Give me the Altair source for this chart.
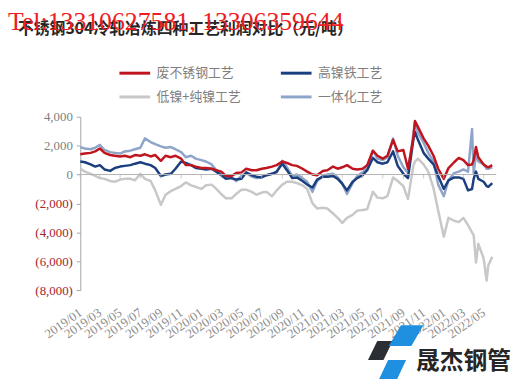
import altair as alt
import pandas as pd

series_names = ["废不锈钢工艺", "高镍铁工艺", "低镍+纯镍工艺", "一体化工艺"]
series_colors = ["#c0141e", "#1b3f7e", "#c8c8c8", "#8ea4c8"]

# semi-monthly sample dates (1st and 15th) + last observation
dates = list(pd.date_range("2019-01-01", "2022-05-15", freq="SMS").strftime("%Y-%m-%d")) + ["2022-05-27"]

red = [1400, 1450, 1500, 1600, 1800, 1500, 1350, 1300, 1250, 1300,
       1200, 1350, 1300, 1400, 1250, 1350, 950, 1300, 1200, 1300,
       1100, 650, 650, 550, 450, 450, 400, 300, 200, -100,
       -100, 100, 150, 400, 300, 300, 400, 450, 550, 650,
       900, 800, 650, 600, 400, 200, 0, -50, 250, 300,
       550, 400, 500, 650, 400, 350, 400, 650, 1650, 1300,
       1100, 1300, 2400, 1600, 1700, 400, 2500, 3300, 2500, 2000,
       1300, 400, -300, 450, 850, 1150, 1000, 650, 1000, 1200,
       700, 500, 650]
navy = [900, 850, 700, 550, 650, 350, 250, 450, 550, 600,
        650, 750, 850, 750, 650, 450, -100, 0, 50, 400,
        900, 800, 650, 450, 400, 350, 400, 200, -50, -300,
        -250, -350, -300, 150, -50, -150, -200, -50, 50, 200,
        750, 300, -250, -200, -450, -700, -900, -350, -150, -150,
        -100, -300, -650, -1100, -500, -250, -50, 300, 1150, 850,
        750, 850, 1600, 600, 50, -250, 2400, 2400, 1500, 1100,
        700, -100, -1000, -400, -200, -200, -300, -1100, -300, -300,
        -500, -850, -600]
grey = [400, 200, 50, -100, -250, -300, -450, -500, -350, -300,
        -300, -400, 50, -300, -450, -1100, -2100, -1400, -1150, -1000,
        -800, -550, -750, -850, -1000, -750, -700, -1000, -1350, -1650,
        -1650, -1350, -1050, -1050, -1200, -1400, -1250, -1200, -1500, -1100,
        -700, -500, -500, -600, -750, -1000, -2000, -2350, -2300, -2350,
        -2700, -3000, -3350, -3000, -2800, -2500, -2450, -2400, -1200, -1600,
        -1650, -1500, -200, -450, -800, -1700, 600, 1100, 700, 200,
        -950, -2500, -4300, -3000, -3200, -3300, -3000, -3500, -4200, -4800,
        -5800, -6300, -5700]
lightblue = [1900, 1800, 1750, 1850, 2050, 1700, 1550, 1500, 1450, 1600,
             1650, 1750, 1850, 2500, 2250, 2100, 1950, 1850, 1900, 1750,
             1550, 1200, 1300, 1100, 1000, 900, 700, 300, 0, -250,
             -200, -450, -100, 100, -150, -250, -150, -50, 50, 150,
             950, 500, -100, 0, -250, -500, -1200, -450, -100, 0,
             50, -200, -600, -1350, -600, -100, 150, 450, 1650, 1100,
             1000, 1200, 2500, 1300, 500, 100, 2800, 2900, 2200, 1500,
             900, -700, -1500, -400, 100, 200, 350, 200, 100, 900,
             700, 400, 500]

# short-lived spikes between the semi-monthly samples
spike_dates = ["2021-10-06", "2022-03-27", "2022-04-08", "2022-05-10"]
spike_red = [3700, 700, 1900, 550]
spike_navy = [2950, -1000, 200, -800]
spike_grey = [900, -4000, -6100, -7350]
spike_lightblue = [3650, 3150, 1450, 400]

tick_labels = ["2019/01", "2019/03", "2019/05", "2019/07", "2019/09", "2019/11",
               "2020/01", "2020/03", "2020/05", "2020/07", "2020/09", "2020/11",
               "2021/01", "2021/03", "2021/05", "2021/07", "2021/09", "2021/11",
               "2022/01", "2022/03", "2022/05"]
y_ticks = [-8000, -6000, -4000, -2000, 0, 2000, 4000]

all_dates = dates + spike_dates
series_vals = {
    "低镍+纯镍工艺": grey + spike_grey,
    "一体化工艺": lightblue + spike_lightblue,
    "高镍铁工艺": navy + spike_navy,
    "废不锈钢工艺": red + spike_red,
}
rows = []
for k, (name, vals) in enumerate(series_vals.items()):
    for d, v in zip(all_dates, vals):
        rows.append({"date": d + "T00:00:00", "series": name, "value": v, "ord": k})
df = pd.DataFrame(rows).sort_values(["ord", "date"]).reset_index(drop=True)

tick_values = [alt.DateTime(year=int(s[:4]), month=int(s[5:]), date=1) for s in tick_labels]
x_scale = alt.Scale(domain=[alt.DateTime(year=2019, month=1, date=1),
                            alt.DateTime(year=2022, month=6, date=8)])
y_scale = alt.Scale(domain=[-8000, 4000], nice=False)

x_axis = alt.Axis(values=tick_values, format="%Y/%m", labelAngle=-35, labelAlign="right",
                  labelBaseline="middle", labelFont="Liberation Serif", labelFontSize=13,
                  labelColor="#8c8c8c", domain=False, ticks=False, tickSize=0, labelPadding=21,
                  grid=False, title=None, labelOverlap=False, labelFlush=False)
y_axis = alt.Axis(values=y_ticks,
                  labelExpr="datum.value < 0 ? '(' + format(-datum.value, ',') + ')' : format(datum.value, ',')",
                  labelColor={"condition": {"test": "datum.value < 0", "value": "#a3262d"}, "value": "#7f7f7f"},
                  labelFont="Liberation Serif", labelFontSize=13, domainColor="#a6a6a6",
                  tickColor="#a6a6a6", tickSize=4, labelPadding=4, grid=False, title=None,
                  labelOverlap=False)

lines = alt.Chart(df).mark_line(strokeWidth=2.5, strokeJoin="round").encode(
    x=alt.X("date:T", scale=x_scale, axis=x_axis),
    y=alt.Y("value:Q", scale=y_scale, axis=y_axis),
    color=alt.Color("series:N",
                    scale=alt.Scale(domain=series_names, range=series_colors),
                    legend=alt.Legend(orient="none", legendX=38, legendY=-61, columns=2,
                                      direction="horizontal",
                                      symbolType="stroke", symbolSize=961, symbolStrokeWidth=3,
                                      labelFont="Noto Sans CJK SC", labelFontSize=13,
                                      labelColor="#7f7f7f", columnPadding=33, rowPadding=-11,
                                      labelOffset=5, title=None)),
    order=alt.Order("date:T"),
)

zero_rule = alt.Chart(pd.DataFrame({"y": [0]})).mark_rule(color="#b3b3b3", strokeWidth=1).encode(
    y=alt.Y("y:Q", scale=y_scale, axis=y_axis))

tick_df = pd.DataFrame({"d": [s.replace("/", "-") + "-01T00:00:00" for s in tick_labels], "y": 0})
zero_ticks = alt.Chart(tick_df).mark_tick(orient="vertical", size=4, thickness=1,
                                          color="#b3b3b3", yOffset=2).encode(
    x=alt.X("d:T", scale=x_scale, axis=x_axis), y=alt.Y("y:Q", scale=y_scale, axis=y_axis))

title_df = pd.DataFrame({"t": ["不锈钢304冷轧冶炼四种工艺利润对比（元/吨）"]})
title = alt.Chart(title_df).mark_text(align="left", baseline="alphabetic", font="Noto Sans CJK SC",
                                      fontWeight="bold", fontSize=16, color="#262626").encode(
    x=alt.value(-63), y=alt.value(-84), text="t:N")

wm_df = pd.DataFrame({"t": ["Tel:13310627581, 13306359644"]})
watermark = alt.Chart(wm_df).mark_text(align="left", baseline="alphabetic", font="Liberation Serif",
                                       fontSize=26, color="#ee1c24").encode(
    x=alt.value(-73), y=alt.value(-88), text="t:N")

one = pd.DataFrame({"k": [0]})
dark_shape = alt.Chart(one).mark_point(shape="M -0.25 -0.76 L 1 -0.76 L 0.25 0.76 L -1 0.76 Z",
                                       filled=True, size=625, color="#2b2e35", opacity=1).encode(
    x=alt.value(303), y=alt.value(236))
blue_top = alt.Chart(one).mark_point(shape="M -0.3 -0.6 L 1 -0.6 L 0.3 0.6 L -1 0.6 Z",
                                     filled=True, size=1225, color="#1f8fe0", opacity=1).encode(
    x=alt.value(329), y=alt.value(221))
blue_bot = alt.Chart(one).mark_point(shape="M -0.3 -0.75 L 1 -0.75 L 0.3 0.75 L -1 0.75 Z",
                                     filled=True, size=784, color="#1f8fe0", opacity=1).encode(
    x=alt.value(315), y=alt.value(256))
logo_df = pd.DataFrame({"t": ["晟杰钢管"]})
logo_text = alt.Chart(logo_df).mark_text(align="left", baseline="alphabetic", font="Noto Sans CJK SC",
                                         fontWeight="bold", fontSize=24, color="#262626").encode(
    x=alt.value(339), y=alt.value(255), text="t:N")

chart = alt.layer(lines, zero_rule, zero_ticks, title, watermark,
                  dark_shape, blue_top, blue_bot, logo_text).properties(
    width=420, height=175,
    padding={"left": 73, "top": 108, "right": 24, "bottom": 88},
    autosize=alt.AutoSizeParams(type="none"),
).configure_view(stroke=None)

chart.save("out.html", embed_options={"renderer": "svg", "actions": False})
